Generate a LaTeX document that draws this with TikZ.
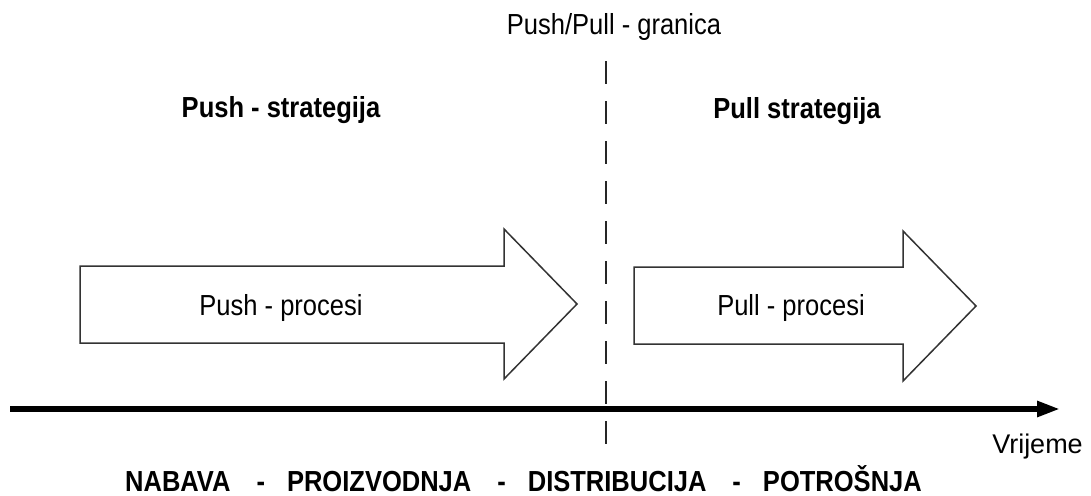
\documentclass[tikz,border=0pt]{standalone}
\usepackage{fontspec}
\setmainfont{Liberation Sans}[FakeStretch=0.88]
\newfontfamily\plainsans{Liberation Sans}
\usetikzlibrary{arrows.meta}
\begin{document}
\begin{tikzpicture}[x=1pt,y=-1pt,
  lbl/.style={inner sep=0pt, anchor=base, font=\fontsize{29}{32}\selectfont},
  blbl/.style={inner sep=0pt, anchor=base, font=\fontsize{29}{32}\selectfont\bfseries},
  bigarrow/.style={draw=black!80, line width=1.5pt, fill=white, line join=miter},
  axisline/.style={line width=5.5pt, -{Triangle[length=23pt,width=15pt]}},
  border/.style={draw=black!85, line width=1.3pt, dash pattern=on 23pt off 17pt}]
\useasboundingbox (0,0) rectangle (1091,495);
% big process arrows
\draw[bigarrow] (80,266) -- (504,266) -- (504,229) -- (577,304) -- (504,379) -- (504,343) -- (80,343) -- cycle;
\draw[bigarrow] (634,267) -- (903,267) -- (903,231) -- (976,306) -- (903,381) -- (903,344) -- (634,344) -- cycle;
% push/pull border
\coordinate (btop) at (606,61);
\coordinate (bbot) at (606,452);
\draw[border] (btop) -- (bbot);
% time axis
\coordinate (ax0) at (10,409);
\coordinate (ax1) at (1060,409);
\draw[axisline] (ax0) -- (ax1);
% labels
\node[lbl] (granica) at (614,35) {Push/Pull - granica};
\node[blbl] (pushs) at (281,117) {Push - strategija};
\node[blbl] (pulls) at (797,118) {Pull strategija};
\node[lbl] (pushp) at (281,315) {Push - procesi};
\node[lbl] (pullp) at (791,315) {Pull - procesi};
\node[inner sep=0pt, anchor=base, font=\plainsans\fontsize{27}{30}\selectfont] (vrijeme) at (1037.5,453) {Vrijeme};
\node[blbl] (lanac) at (523.5,491) {NABAVA\hspace{26pt}-\hspace{22pt}PROIZVODNJA\hspace{26pt}-\hspace{22pt}DISTRIBUCIJA\hspace{26pt}-\hspace{22pt}POTROŠNJA};
\end{tikzpicture}
\end{document}
